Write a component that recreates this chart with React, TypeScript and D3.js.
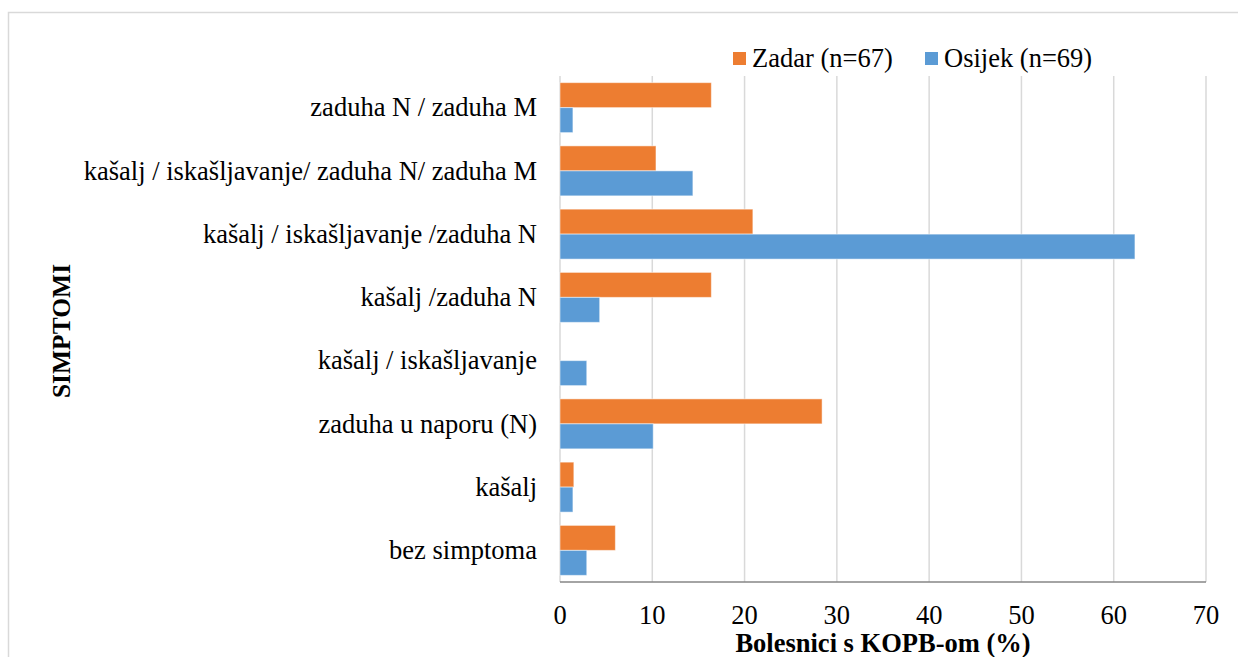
import React, { useEffect, useRef } from "react";
import * as d3 from "d3";

const categories = [
  "zaduha N / zaduha M",
  "kašalj / iskašljavanje/ zaduha N/ zaduha M",
  "kašalj / iskašljavanje /zaduha N",
  "kašalj /zaduha N",
  "kašalj / iskašljavanje",
  "zaduha u naporu (N)",
  "kašalj",
  "bez simptoma",
];
const seriesNames = ["Zadar (n=67)", "Osijek (n=69)"];
const zadar = [16.4, 10.4, 20.9, 16.4, 0, 28.4, 1.5, 6.0];
const osijek = [1.4, 14.4, 62.3, 4.3, 2.9, 10.1, 1.4, 2.9];
const xTicks = [0, 10, 20, 30, 40, 50, 60, 70];
const colors = ["#ED7D31", "#5B9BD5"];

const App = () => {
  const ref = useRef<SVGSVGElement>(null);

  useEffect(() => {
    const width = 1238;
    const height = 657;
    const margin = { top: 76, right: 32, bottom: 75, left: 560 };
    const font = "Liberation Serif, Times New Roman, serif";
    const fs = 26.5;

    const svg = d3.select(ref.current);
    svg.selectAll("*").remove();

    // chart border
    svg.append("rect")
      .attr("x", 8.5).attr("y", 12.5)
      .attr("width", 1260).attr("height", 700)
      .attr("fill", "white").attr("stroke", "#d9d9d9").attr("stroke-width", 1.5);

    const x = d3.scaleLinear()
      .domain([0, 70])
      .range([margin.left, width - margin.right]);

    const y = d3.scaleBand()
      .domain(categories)
      .range([margin.top, height - margin.bottom])
      .paddingInner(0.21)
      .paddingOuter(0.105);

    const y1 = d3.scaleBand()
      .domain(seriesNames)
      .range([0, y.bandwidth()]);

    // gridlines
    svg.append("g")
      .selectAll("line")
      .data(xTicks)
      .join("line")
      .attr("x1", (d) => x(d)).attr("x2", (d) => x(d))
      .attr("y1", margin.top).attr("y2", height - margin.bottom)
      .attr("stroke", "#d9d9d9").attr("stroke-width", 1.5);

    const data = categories.map((c, i) => ({ cat: c, vals: [zadar[i], osijek[i]] }));

    svg.append("g")
      .selectAll("g")
      .data(data)
      .join("g")
      .attr("transform", (d) => `translate(0,${y(d.cat)})`)
      .selectAll("rect")
      .data((d) => d.vals.map((v, j) => ({ v, s: seriesNames[j], j })))
      .join("rect")
      .filter((d) => d.v > 0)
      .attr("x", x(0))
      .attr("y", (d) => y1(d.s)!)
      .attr("width", (d) => x(d.v) - x(0))
      .attr("height", y1.bandwidth())
      .attr("fill", (d) => colors[d.j])
      .attr("stroke", "white").attr("stroke-opacity", 0.5).attr("stroke-width", 1);

    // bottom axis line
    svg.append("line")
      .attr("x1", x(0)).attr("x2", x(70))
      .attr("y1", height - margin.bottom).attr("y2", height - margin.bottom)
      .attr("stroke", "#868686").attr("stroke-width", 1.5);

    // x tick labels
    svg.append("g")
      .selectAll("text")
      .data(xTicks)
      .join("text")
      .attr("x", (d) => x(d))
      .attr("y", 624)
      .attr("text-anchor", "middle")
      .attr("font-family", font)
      .attr("font-size", fs)
      .text((d) => d);

    // category labels
    svg.append("g")
      .selectAll("text")
      .data(categories)
      .join("text")
      .attr("x", margin.left - 23)
      .attr("y", (d) => y(d)! + y.bandwidth() / 2)
      .attr("dy", "0.33em")
      .attr("text-anchor", "end")
      .attr("font-family", font)
      .attr("font-size", fs)
      .text((d) => d);

    // axis titles
    svg.append("text")
      .attr("x", (x(0) + x(70)) / 2)
      .attr("y", 652)
      .attr("text-anchor", "middle")
      .attr("font-family", font)
      .attr("font-size", fs)
      .attr("font-weight", "bold")
      .text("Bolesnici s KOPB-om (%)");

    svg.append("text")
      .attr("transform", "translate(70,331) rotate(-90)")
      .attr("text-anchor", "middle")
      .attr("font-family", font)
      .attr("font-size", 25.5)
      .attr("font-weight", "bold")
      .text("SIMPTOMI");

    // legend
    const legendX = [733, 925];
    const legend = svg.append("g")
      .selectAll("g")
      .data(seriesNames)
      .join("g")
      .attr("transform", (d, i) => `translate(${legendX[i]},58)`);
    legend.append("rect")
      .attr("x", 0).attr("y", -6)
      .attr("width", 13).attr("height", 13)
      .attr("fill", (d, i) => colors[i]);
    legend.append("text")
      .attr("x", 19)
      .attr("dy", "0.33em")
      .attr("font-family", font)
      .attr("font-size", fs)
      .text((d) => d);
  }, []);

  return (
    <svg
      ref={ref}
      width={1238}
      height={657}
      style={{ position: "absolute", left: 0, top: 0 }}
    />
  );
};

export default App;
